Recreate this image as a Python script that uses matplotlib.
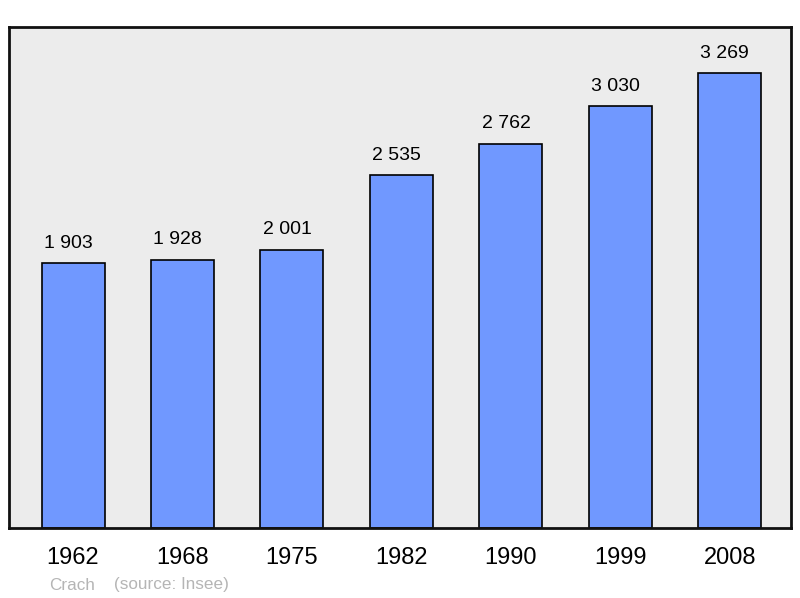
import matplotlib
matplotlib.use("Agg")
import matplotlib.pyplot as plt
import numpy as np

years = ["1962", "1968", "1975", "1982", "1990", "1999", "2008"]
population = [1903, 1928, 2001, 2535, 2762, 3030, 3269]
labels = ["1 903", "1 928", "2 001", "2 535", "2 762", "3 030", "3 269"]

plt.rcParams["font.family"] = ["Liberation Sans", "DejaVu Sans"]

fig = plt.figure(figsize=(8, 5.98), dpi=100)
# axes box: x 9..791, y 27..528 px
ax = fig.add_axes([9 / 800, 1 - 528 / 598, 782 / 800, 501 / 598])
ax.set_facecolor("#ececec")

x = np.arange(len(years))
ax.bar(x, population, width=0.576, color="#7098ff", edgecolor="black",
       linewidth=1.2, zorder=2)

for xi, v, lab in zip(x, population, labels):
    ax.annotate(lab, (xi, v), xytext=(-3.5, 11), textcoords="offset points",
                ha="center", va="baseline", fontsize=14, color="black")

ax.set_xlim(-0.585, 6.56)
ax.set_ylim(0, 3600)
ax.set_xticks(x)
ax.set_xticklabels(years, fontsize=17)
ax.set_yticks([])
ax.tick_params(axis="x", length=0, pad=13.5)

for s in ax.spines.values():
    s.set_linewidth(2)
    s.set_color("#111111")

fig.text(49 / 800, 1 - 585 / 598, "Crach", fontsize=12.3, color="#b5b5b5",
         ha="left", va="center")
fig.text(114 / 800, 1 - 585 / 598, "(source: Insee)", fontsize=12.3,
         color="#b5b5b5", ha="left", va="center")

fig.savefig("out.png", dpi=100)
